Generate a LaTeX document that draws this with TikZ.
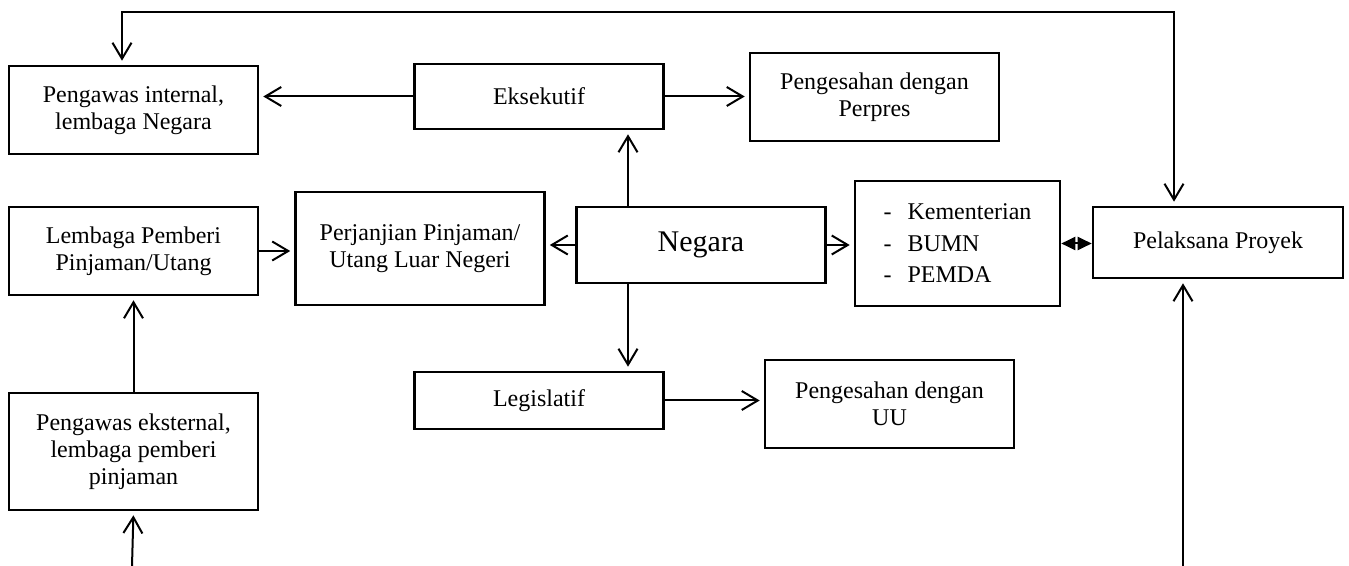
\documentclass[tikz,border=0pt]{standalone}
\usepackage{fontspec}
\setmainfont{Liberation Serif}
\usetikzlibrary{arrows.meta}

\begin{document}
\begin{tikzpicture}[x=0.5pt,y=-0.5pt,
    >={Straight Barb[length=8pt,width=9.5pt]},
    kotak/.style={draw,line width=1.3pt,align=center,inner sep=0pt,
      minimum width=124.5pt,font=\fontsize{12}{13.5}\selectfont},
    panah/.style={->,line width=1pt,shorten >=2pt}]
  \useasboundingbox (0,0) rectangle (1349,566);
  \node[kotak,minimum height=44pt] (pint) at (133.5,110) {Pengawas internal,\\lembaga Negara};
  \node[kotak,minimum height=32.5pt] (eks) at (539,96.5) {Eksekutif};
  \node[kotak,minimum height=44pt] (pps) at (874.5,97) {Pengesahan dengan\\Perpres};
  \node[kotak,minimum height=44pt] (lem) at (133.5,251) {Lembaga Pemberi\\Pinjaman/Utang};
  \node[kotak,minimum height=56.5pt] (per) at (420,248.5) {Perjanjian Pinjaman/\\Utang Luar Negeri};
  \node[kotak,minimum height=38pt,font=\fontsize{15}{18}\selectfont] (neg) at (701,245) {Negara};
  \node[kotak,minimum width=102.5pt,minimum height=62.5pt,align=left,
    font=\fontsize{12}{15.75}\selectfont] (kem) at (957.5,243.5)
    {\makebox[12pt][l]{-}Kementerian\\\makebox[12pt][l]{-}BUMN\\\makebox[12pt][l]{-}PEMDA};
  \node[kotak,minimum width=125pt,minimum height=35.5pt] (pel) at (1218,242.5) {Pelaksana Proyek};
  \node[kotak,minimum height=28.5pt] (leg) at (539,400.5) {Legislatif};
  \node[kotak,minimum height=44pt] (puu) at (889.5,404) {Pengesahan dengan\\UU};
  \node[kotak,minimum height=58.5pt] (pext) at (133.5,451.5) {Pengawas eksternal,\\lembaga pemberi\\pinjaman};

  \coordinate (atas) at (0,12);
  \coordinate (kiri) at (122,0);
  \coordinate (kanan) at (1174,0);
  \coordinate (sumbu) at (628,0);
  \coordinate (bawahkiri) at (132,566);
  \coordinate (bawahkanan) at (1183,566);

  \draw[panah,<->,shorten <=2pt] (pel.north -| kanan) -- (kanan |- atas) -- (kiri |- atas) -- (pint.north -| kiri);
  \draw[panah] (eks.west) -- (eks.west -| pint.east);
  \draw[panah] (eks.east) -- (eks.east -| pps.west);
  \draw[panah] (neg.north -| sumbu) -- (eks.south -| sumbu);
  \draw[panah] (neg.south -| sumbu) -- (leg.north -| sumbu);
  \draw[panah] (leg.east) -- (leg.east -| puu.west);
  \draw[panah] (neg.west) -- (neg.west -| per.east);
  \draw[panah] (lem.east) -- (lem.east -| per.west);
  \draw[panah] (neg.east) -- (neg.east -| kem.west);
  \draw[line width=1pt,{Triangle[length=7pt,width=6.5pt]}-{Triangle[length=7pt,width=6.5pt]}] (kem.east) -- (kem.east -| pel.west);
  \draw[panah] (pext.north) -- (lem.south);
  \draw[panah] (bawahkiri) -- (pext.south);
  \draw[panah] (bawahkanan) -- (bawahkanan |- pel.south);
\end{tikzpicture}
\end{document}
